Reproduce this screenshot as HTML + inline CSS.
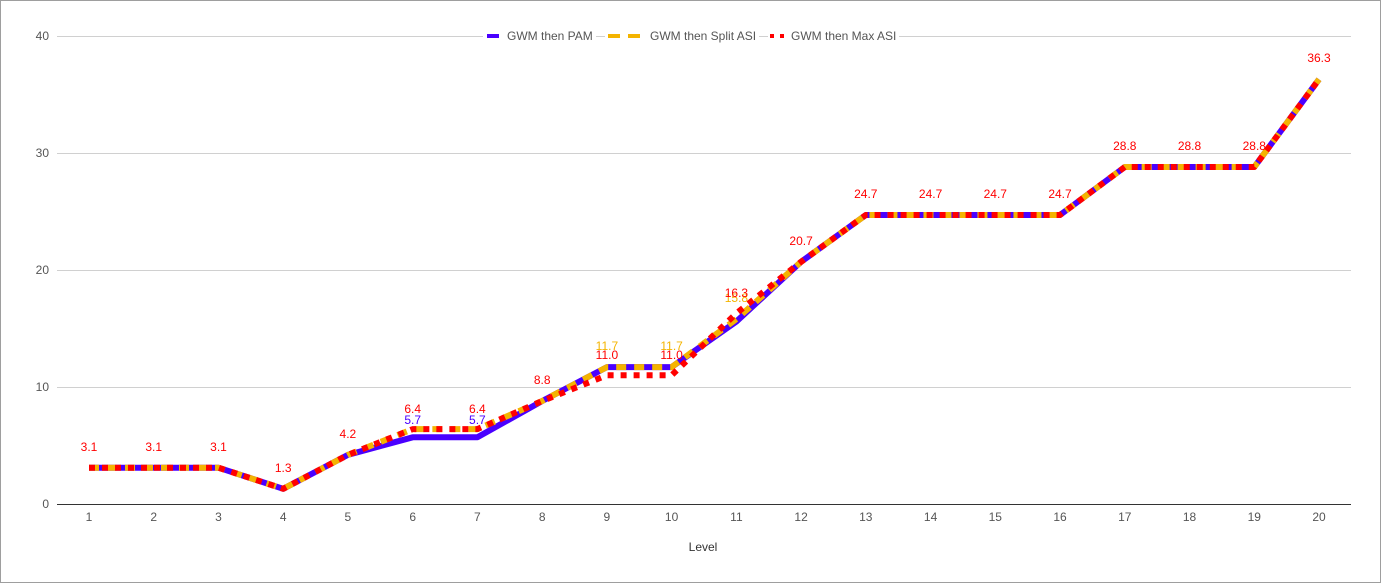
<!DOCTYPE html>
<html><head><meta charset="utf-8"><style>
html,body{margin:0;padding:0;background:#fff}
svg{display:block}
text{font-family:"Liberation Sans",Arial,sans-serif}
</style></head><body>
<svg width="1381" height="583" xmlns="http://www.w3.org/2000/svg">
<rect x="0.5" y="0.5" width="1380" height="582" fill="#fff" stroke="#9e9e9e"/>
<g stroke="#d0d0d0" stroke-width="1">
<line x1="57" y1="36.5" x2="483" y2="36.5"/>
<line x1="596" y1="36.5" x2="605" y2="36.5"/>
<line x1="759" y1="36.5" x2="768" y2="36.5"/>
<line x1="899" y1="36.5" x2="1351" y2="36.5"/>
<line x1="57" y1="153.5" x2="1351" y2="153.5"/>
<line x1="57" y1="270.5" x2="1351" y2="270.5"/>
<line x1="57" y1="387.5" x2="1351" y2="387.5"/>
</g>
<line x1="57" y1="504.5" x2="1351" y2="504.5" stroke="#333" stroke-width="1"/>
<g font-size="12" fill="#555" text-anchor="end">
<text x="49" y="40">40</text><text x="49" y="157">30</text><text x="49" y="274">20</text><text x="49" y="391">10</text><text x="49" y="508">0</text>
</g>
<g font-size="12" fill="#555" text-anchor="middle">
<text x="89" y="521">1</text><text x="153.7" y="521">2</text><text x="218.5" y="521">3</text><text x="283.2" y="521">4</text><text x="347.9" y="521">5</text><text x="412.7" y="521">6</text><text x="477.4" y="521">7</text><text x="542.2" y="521">8</text><text x="606.9" y="521">9</text><text x="671.6" y="521">10</text><text x="736.4" y="521">11</text><text x="801.1" y="521">12</text><text x="865.8" y="521">13</text><text x="930.6" y="521">14</text><text x="995.3" y="521">15</text><text x="1060" y="521">16</text><text x="1124.8" y="521">17</text><text x="1189.5" y="521">18</text><text x="1254.3" y="521">19</text><text x="1319" y="521">20</text>
<text x="703" y="551" fill="#333">Level</text>
</g>
<g fill="none" stroke-width="6" stroke-linejoin="round">
<polyline stroke="#4a00ff" points="89,467.7 153.7,467.7 218.5,467.7 283.2,488.8 347.9,454.9 412.7,437.3 477.4,437.3 542.2,401 606.9,367.1 671.6,367.1 736.4,321.5 801.1,261.8 865.8,215 930.6,215 995.3,215 1060,215 1124.8,167 1189.5,167 1254.3,167 1319,79.3"/>
<polyline stroke="#f4b400" stroke-dasharray="10,8" points="89,467.7 153.7,467.7 218.5,467.7 283.2,488.8 347.9,454.9 412.7,429.1 477.4,429.1 542.2,401 606.9,367.1 671.6,367.1 736.4,319.1 801.1,261.8 865.8,215 930.6,215 995.3,215 1060,215 1124.8,167 1189.5,167 1254.3,167 1319,79.3"/>
<polyline stroke="#ff0000" stroke-dasharray="6,7" points="89,467.7 153.7,467.7 218.5,467.7 283.2,488.8 347.9,454.9 412.7,429.1 477.4,429.1 542.2,401 606.9,375.3 671.6,375.3 736.4,313.3 801.1,261.8 865.8,215 930.6,215 995.3,215 1060,215 1124.8,167 1189.5,167 1254.3,167 1319,79.3"/>
</g>
<g font-size="12" text-anchor="middle" fill="#ff0000">
<text x="89" y="451">3.1</text><text x="153.7" y="451">3.1</text><text x="218.5" y="451">3.1</text><text x="283.2" y="472">1.3</text><text x="347.9" y="438">4.2</text>
<text x="412.7" y="424" fill="#4a00ff">5.7</text><text x="477.4" y="424" fill="#4a00ff">5.7</text>
<text x="412.7" y="413">6.4</text><text x="477.4" y="413">6.4</text><text x="542.2" y="384">8.8</text>
<text x="606.9" y="350" fill="#f4b400">11.7</text><text x="671.6" y="350" fill="#f4b400">11.7</text>
<text x="606.9" y="359">11.0</text><text x="671.6" y="359">11.0</text>
<text x="736.4" y="302" fill="#f4b400">15.8</text><text x="736.4" y="297">16.3</text>
<text x="801.1" y="245">20.7</text><text x="865.8" y="198">24.7</text><text x="930.6" y="198">24.7</text><text x="995.3" y="198">24.7</text><text x="1060" y="198">24.7</text>
<text x="1124.8" y="150">28.8</text><text x="1189.5" y="150">28.8</text><text x="1254.3" y="150">28.8</text><text x="1319" y="62">36.3</text>
</g>
<g font-size="12" fill="#555">
<line x1="487" y1="36" x2="499" y2="36" stroke="#4a00ff" stroke-width="4"/>
<text x="507" y="40">GWM then PAM</text>
<line x1="608" y1="36" x2="620" y2="36" stroke="#f4b400" stroke-width="4"/>
<line x1="628" y1="36" x2="640" y2="36" stroke="#f4b400" stroke-width="4"/>
<text x="650" y="40">GWM then Split ASI</text>
<rect x="770" y="34" width="4" height="4" fill="#ff0000"/><rect x="780" y="34" width="4" height="4" fill="#ff0000"/>
<text x="791" y="40">GWM then Max ASI</text>
</g>
</svg>
</body></html>
